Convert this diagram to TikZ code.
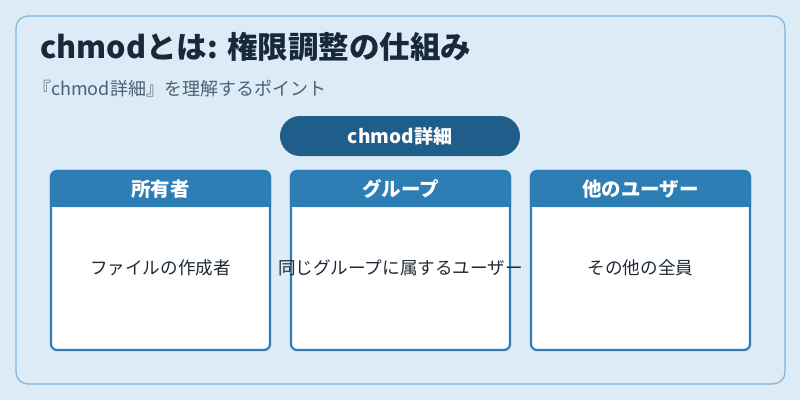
\documentclass[tikz,border=0pt]{standalone}
\usepackage{fontspec}
\setmainfont{Noto Sans CJK JP}
\definecolor{bgc}{HTML}{DCEBF6}
\definecolor{frame}{HTML}{7FB3D8}
\definecolor{titlec}{HTML}{17293A}
\definecolor{subc}{HTML}{4A6275}
\definecolor{pill}{HTML}{1F5E8A}
\definecolor{head}{HTML}{2E7EB6}
\definecolor{bodyt}{HTML}{1E2A36}
\tikzset{
 card/.style={draw=head,line width=2.2pt,fill=white,rounded corners=6pt},
 hd/.style={text=white,font=\fontsize{19.5}{22}\selectfont\bfseries},
 bt/.style={text=bodyt,font=\fontsize{17.6}{20}\selectfont},
}
\begin{document}
\begin{tikzpicture}[x=1pt,y=-1pt]
\useasboundingbox (0,0) rectangle (800,400);
\fill[bgc] (0,0) rectangle (800,400);
\draw[frame,line width=1.2pt,fill=bgc,rounded corners=12pt] (16,16) rectangle (785,384);
\node[anchor=west,inner sep=0pt,text=titlec,font=\fontsize{30.5}{34}\selectfont\bfseries] (t) at (40,47) {chmodとは: 権限調整の仕組み};
\node[anchor=west,inner sep=0pt,text=subc,font=\fontsize{18}{21}\selectfont] (s) at (33,89) {『chmod詳細』を理解するポイント};
\node[fill=pill,rounded corners=20pt,minimum width=240pt,minimum height=40pt,text=white,font=\fontsize{19}{22}\selectfont\bfseries] (p) at (400,136) {chmod詳細};
\foreach \x/\h/\b/\n in {51/所有者/ファイルの作成者/a,291/グループ/同じグループに属するユーザー/b,531/他のユーザー/その他の全員/c}{
 \draw[card] (\x,171) rectangle ++(219,179);
 \fill[head,rounded corners=6pt] (\x,171) rectangle ++(219,36);
 \fill[head] (\x,195) rectangle ++(219,12);
 \draw[head,line width=2.2pt,rounded corners=6pt] (\x,207) -- (\x,171) -- ++(219,0) -- ++(0,36);
 \node[hd] (h\n) at (\x+109.5,189) {\h};
 \node[bt] (b\n) at (\x+109.5,268) {\b};
}
\end{tikzpicture}
\end{document}
